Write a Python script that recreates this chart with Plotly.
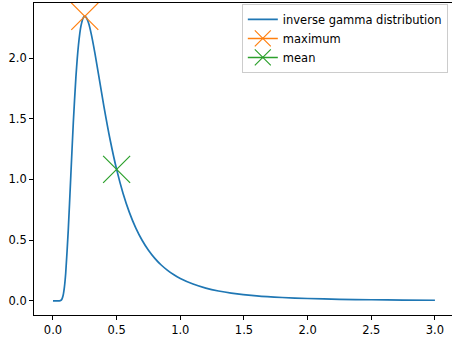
import plotly.graph_objects as go

# values
x_vals = [0.0, 0.05, 0.06, 0.07, 0.08, 0.09, 0.10, 0.12, 0.14, 0.16, 0.18, 0.20, 0.22,
          0.24, 0.25, 0.26, 0.28, 0.30, 0.33, 0.36, 0.40, 0.45, 0.50, 0.55, 0.60, 0.65,
          0.70, 0.75, 0.80, 0.85, 0.90, 0.95, 1.0, 1.1, 1.2, 1.3, 1.4, 1.6, 1.8, 2.0,
          2.25, 2.5, 2.75, 3.0]
y_vals = [0.0, 0.0002, 0.0022, 0.013, 0.0455, 0.114, 0.227, 0.580, 1.029, 1.473, 1.841,
          2.106, 2.266, 2.337, 2.344, 2.337, 2.287, 2.202, 2.037, 1.851, 1.603, 1.321,
          1.083, 0.887, 0.729, 0.601, 0.499, 0.417, 0.350, 0.295, 0.251, 0.214, 0.184,
          0.138, 0.105, 0.081, 0.0637, 0.0408, 0.0273, 0.0190, 0.0125, 0.0086, 0.0061,
          0.0044]
max_x = [0.25]
max_y = [2.344]
mean_x = [0.5]
mean_y = [1.083]

x_ticks = [0.0, 0.5, 1.0, 1.5, 2.0, 2.5, 3.0]
y_ticks = [0.0, 0.5, 1.0, 1.5, 2.0]

fig = go.Figure()
fig.add_trace(go.Scatter(x=x_vals, y=y_vals, mode="lines", name="inverse gamma distribution",
                         line=dict(color="#1f77b4", width=1.7, shape="spline", smoothing=0.6)))
fig.add_trace(go.Scatter(x=max_x, y=max_y, mode="lines+markers", name="maximum",
                         line=dict(color="#ff7f0e", width=1.6),
                         marker=dict(symbol="x-thin", size=27, color="#ff7f0e",
                                     line=dict(color="#ff7f0e", width=1.2))))
fig.add_trace(go.Scatter(x=mean_x, y=mean_y, mode="lines+markers", name="mean",
                         line=dict(color="#2ca02c", width=1.6),
                         marker=dict(symbol="x-thin", size=27, color="#2ca02c",
                                     line=dict(color="#2ca02c", width=1.2))))

fig.update_layout(
    width=452, height=337,
    margin=dict(l=34, r=0, t=3, b=22),
    plot_bgcolor="white", paper_bgcolor="white",
    font=dict(family="DejaVu Sans", size=11.5, color="black"),
    showlegend=True,
    legend=dict(x=0.99, y=0.997, xanchor="right", yanchor="top",
                bgcolor="rgba(255,255,255,0.8)", bordercolor="#cccccc", borderwidth=1,
                font=dict(size=11.5), tracegroupgap=0, itemwidth=30),
)
fig.update_xaxes(range=[-0.149, 3.134], tickvals=x_ticks, ticktext=[f"{v:.1f}" for v in x_ticks],
                 showgrid=False, zeroline=False, showline=True, linecolor="black", linewidth=0.8,
                 mirror=True, ticks="outside", ticklen=4, tickwidth=0.8, tickcolor="black")
fig.update_yaxes(range=[-0.117, 2.454], tickvals=y_ticks, ticktext=[f"{v:.1f}" for v in y_ticks],
                 showgrid=False, zeroline=False, showline=True, linecolor="black", linewidth=0.8,
                 ticks="outside", ticklen=4, tickwidth=0.8, tickcolor="black")

fig.write_html("out.html", config={"displayModeBar": False},
               post_script="document.body.style.margin='0';document.body.style.overflow='hidden';")
